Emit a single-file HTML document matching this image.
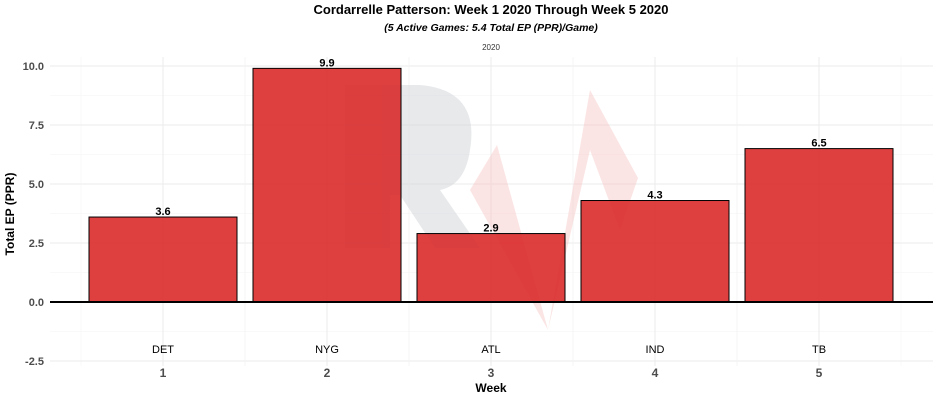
<!DOCTYPE html>
<html><head><meta charset="utf-8"><style>
body{margin:0;background:#fff;font-family:"Liberation Sans",sans-serif}
</style></head><body>
<svg width="939" height="400" viewBox="0 0 939 400" id="chart">
<text x="491" y="14" text-anchor="middle" font-size="13" font-weight="bold">Cordarrelle Patterson: Week 1 2020 Through Week 5 2020</text>
<text x="491" y="31" text-anchor="middle" font-size="10.5" font-weight="bold" font-style="italic">(5 Active Games: 5.4 Total EP (PPR)/Game)</text>
<text x="491" y="50" text-anchor="middle" font-size="8" fill="#333">2020</text>
<g id="grid"></g>
<g opacity="0.55">
<path d="M345 85 L420 85 Q480 90 470 150 Q465 185 440 190 L480 248 L435 248 L400 195 L390 195 L390 248 L345 248 Z" fill="#d5d8dc"/>
<polygon points="470,190 497,145 548,330 590,90 638,178 620,230 590,150 548,330 470,190" fill="#f5c2c0" opacity="0.8"/>
</g>
<g id="bars"></g>
<line x1="50" x2="933" y1="302" y2="302" stroke="#000" stroke-width="2"/>
<g id="axes"></g>
<text x="491" y="392" text-anchor="middle" font-size="12" font-weight="bold">Week</text>
<text transform="translate(14,214) rotate(-90)" text-anchor="middle" font-size="12" font-weight="bold">Total EP (PPR)</text>
</svg>
<script>
const weeks=[1,2,3,4,5];
const opponents=["DET","NYG","ATL","IND","TB"];
const values=[3.6,9.9,2.9,4.3,6.5];
const yTicks=[-2.5,0,2.5,5,7.5,10];
const NS="http://www.w3.org/2000/svg";
const xs=w=>163+(w-1)*164;
const ys=v=>302-v*23.6;
function mk(tag,attrs,parent){const e=document.createElementNS(NS,tag);for(const k in attrs)e.setAttribute(k,attrs[k]);parent.appendChild(e);return e;}
const grid=document.getElementById('grid'),bars=document.getElementById('bars'),axes=document.getElementById('axes');
yTicks.forEach((t,i)=>{
  const l=mk('line',{x1:50,x2:933,y1:ys(t),y2:ys(t),stroke:'#ebebeb','stroke-width':1},grid);
  
  
  if(i<yTicks.length-1){const m=mk('line',{x1:50,x2:933,y1:ys(t+1.25),y2:ys(t+1.25),stroke:'#f3f3f3','stroke-width':0.6},grid);
  
  }
  const tx=mk('text',{x:44,y:ys(t)+4,'text-anchor':'end','font-size':11,'font-weight':'bold',fill:'#4d4d4d'},axes);
  tx.textContent=t.toFixed(1);
  
  
});
weeks.forEach(w=>{
  const l=mk('line',{x1:xs(w),x2:xs(w),y1:57,y2:366,stroke:'#ebebeb','stroke-width':1},grid);
  
  
  [w-0.5,w+0.5].forEach(h=>{const m=mk('line',{x1:xs(h),x2:xs(h),y1:57,y2:366,stroke:'#f3f3f3','stroke-width':0.6},grid);
  
  });
});
weeks.forEach((w,i)=>{
  const v=values[i],x=xs(w)-74,y0=ys(Math.max(v,0)),h=Math.abs(ys(v)-ys(0));
  const r=mk('rect',{x:x,y:y0,width:148,height:h,fill:'#d92626','fill-opacity':0.88,stroke:'#000','stroke-width':1},bars);
  
  
  const lb=mk('text',{x:xs(w),y:y0-2,'text-anchor':'middle','font-size':11,'font-weight':'bold'},bars);
  lb.textContent=v.toFixed(1);
  
  
  const op=mk('text',{x:xs(w),y:353,'text-anchor':'middle','font-size':11},bars);
  op.textContent=opponents[i];
  
  
  const wt=mk('text',{x:xs(w),y:377,'text-anchor':'middle','font-size':12,'font-weight':'bold',fill:'#4d4d4d'},axes);
  wt.textContent=w;
  
  
});
</script>
</body></html>
